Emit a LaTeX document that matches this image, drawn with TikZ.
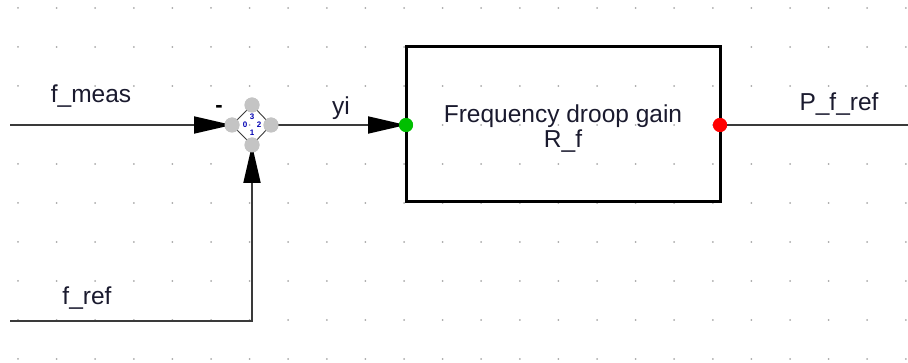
\documentclass[tikz,border=0pt]{standalone}
\usepackage{fontspec}
\setmainfont{Liberation Sans}
\usetikzlibrary{arrows.meta}
\definecolor{sig}{HTML}{3A3A3A}
\definecolor{griddot}{HTML}{A8A8A8}
\definecolor{portgray}{HTML}{C4C4C4}
\definecolor{txt}{HTML}{1A1A2E}
\tikzset{
  sigline/.style={draw=sig, line width=1.8pt},
  bigarrow/.style={sigline, -{Triangle[length=38pt,width=17pt,color=black]}},
  port/.style={circle, fill=portgray, minimum size=15pt, inner sep=0pt},
  dotport/.style={circle, minimum size=14pt, inner sep=0pt},
  lbl/.style={font=\fontsize{24.5}{20}\selectfont, text=txt, inner sep=0pt, anchor=base},
  tiny/.style={font=\fontsize{8}{8}\selectfont\bfseries, text=blue!70!black, inner sep=0pt},
  blockbox/.style={draw=black, line width=3pt, minimum width=314pt, minimum height=155pt, inner sep=0pt}
}
\begin{document}
\begin{tikzpicture}[x=1pt, y=-1pt]
\useasboundingbox (0,0) rectangle (908,363);
% grid dots
\foreach \i in {0,...,23} {
  \foreach \j in {0,...,9} {
    \fill[griddot] ({18+38.6*\i},{8+39*\j}) circle (1pt);
  }
}
% block
\node[blockbox] (blk) at (563,124.5) {};
\node[lbl] (blkt1) at (563,122.5) {Frequency droop gain};
\node[lbl] (blkt2) at (563,147.5) {R\_f};
% summation junction ports
\node[port] (sT) at (252,105) {};
\node[port] (sL) at (232,125) {};
\node[port] (sR) at (271,125) {};
\node[port] (sB) at (252,145) {};
\node[font=\fontsize{22}{22}\selectfont\bfseries, inner sep=0pt] (minus) at (219,109) {-};
% ports of block
\node[dotport, fill=green!75!black] (inP) at (406,125) {};
\node[dotport, fill=red] (outP) at (720,125) {};
% free ends
\coordinate (fmeasStart) at (10,125);
\coordinate (frefStart) at (10,321);
\coordinate (frefCorner) at (252,321);
\coordinate (outEnd) at (908,125);
% connectors
\draw[bigarrow] (fmeasStart) -- (sL.center);
\draw[bigarrow] (frefStart) -- (frefCorner) -- (sB.center);
\draw[bigarrow] (sR.center) -- (inP.center);
\draw[sigline] (outP.center) -- (outEnd);
% junction drawn on top
\draw[sig, line width=0.9pt] (sL.center) -- (sT.center) -- (sR.center) -- (sB.center) -- cycle;
\node[port] at (sL) {};
\node[port] at (sB) {};
\node[port] at (sR) {};
\node[port] at (sT) {};
\node[tiny] (d3) at (252,117) {3};
\node[tiny] (d0) at (245,125) {0};
\node[tiny] (d2) at (259,125) {2};
\node[tiny] (d1) at (252,133) {1};
\node[dotport, fill=green!75!black] at (406,125) {};
\node[dotport, fill=red] at (720,125) {};
% labels
\node[lbl] (lfmeas) at (91,103) {f\_meas};
\node[lbl] (lyi) at (341,115) {yi};
\node[lbl] (lpfref) at (839,111) {P\_f\_ref};
\node[lbl] (lfref) at (87,305) {f\_ref};
\end{tikzpicture}
\end{document}
